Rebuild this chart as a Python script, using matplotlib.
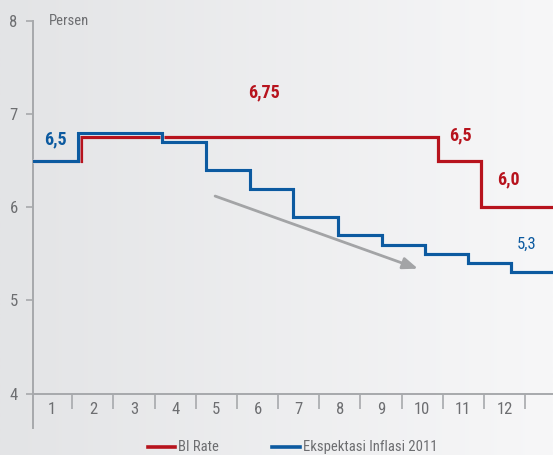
import matplotlib
matplotlib.use("Agg")
import matplotlib.pyplot as plt
import matplotlib.patheffects as pe
from matplotlib import font_manager as fm
import numpy as np

# pick a narrow sans family if one is installed
_fonts = fm.fontManager.ttflist
_names = {f.name for f in _fonts}
FONT_STRETCH = "normal"
if "Roboto Condensed" in _names:
    FONT = "Roboto Condensed"
elif "Liberation Sans Narrow" in _names:
    FONT = "Liberation Sans Narrow"
elif any(f.name == "DejaVu Sans" and "ondensed" in f.fname for f in _fonts):
    FONT = "DejaVu Sans"
    FONT_STRETCH = "condensed"
else:
    FONT = "Roboto"
plt.rcParams['font.family'] = [FONT, 'DejaVu Sans']
plt.rcParams['font.stretch'] = FONT_STRETCH

# Month categories on the x axis
months = ["1", "2", "3", "4", "5", "6", "7", "8", "9", "10", "11", "12"]

# BI Rate: change points (in month units) and levels (percent)
bi_x = [0.545, 1.71, 10.39, 11.44, 13.18]
bi_y = [6.5, 6.75, 6.5, 6.0, 6.0]

# Inflation expectation 2011: change points and levels (percent)
exp_x = [0.545, 1.64, 3.69, 4.74, 5.82, 6.87, 7.95, 9.02, 10.07, 11.11, 12.17, 13.18]
exp_y = [6.5, 6.8, 6.7, 6.4, 6.2, 5.9, 5.7, 5.6, 5.5, 5.4, 5.3, 5.3]

RED = "#b7131d"
BLUE = "#0c5aa0"
GRAY_TXT = "#6d6e71"
AXIS = "#a7a9ac"

W, H = 553, 455
fig = plt.figure(figsize=(W / 100, H / 100), dpi=100)

# soft horizontal background gradient
bg = fig.add_axes([0, 0, 1, 1], zorder=-10)
grad = np.linspace(0, 1, 256).reshape(1, -1)
c0 = np.array([0xe3, 0xe4, 0xe6]) / 255
c1 = np.array([0xf7, 0xf7, 0xf8]) / 255
img = c0[None, None, :] * (1 - grad[..., None]) + c1[None, None, :] * grad[..., None]
bg.imshow(img, aspect="auto", extent=[0, 1, 0, 1])
bg.set_axis_off()

left_px, right_px = 33, 553
top_px, bot_px = 21, 393.5
ax = fig.add_axes([left_px / W, 1 - bot_px / H, (right_px - left_px) / W, (bot_px - top_px) / H])
ax.patch.set_alpha(0)
ax.set_xlim(bi_x[0], bi_x[-1])
ax.set_ylim(4, 8)

ax.step(bi_x, bi_y, where="post", color=RED, lw=2.3, zorder=3, solid_joinstyle="miter")
ax.step(exp_x, exp_y, where="post", color=BLUE, lw=2.3, zorder=4, solid_joinstyle="miter",
        path_effects=[pe.Stroke(linewidth=3.3, foreground="#ffffff", alpha=0.6), pe.Normal()])

# downward trend arrow
ax.annotate("", xy=(9.90, 5.34), xytext=(4.97, 6.12),
            arrowprops=dict(arrowstyle="-|>,head_length=0.9,head_width=0.35",
                            color="#a3a4a6", lw=2.0, shrinkA=0, shrinkB=0), zorder=2)

# value labels
ax.text(1.08, 6.73, "6,5", color=BLUE, fontsize=13, fontweight="bold", ha="center", va="center")
ax.text(6.17, 7.23, "6,75", color=RED, fontsize=13, fontweight="bold", ha="center", va="center")
ax.text(10.92, 6.77, "6,5", color=RED, fontsize=13, fontweight="bold", ha="center", va="center")
ax.text(12.10, 6.30, "6,0", color=RED, fontsize=13, fontweight="bold", ha="center", va="center")
ax.text(12.55, 5.60, "5,3", color=BLUE, fontsize=12, ha="center", va="center")

# axes styling
for s in ["top", "right"]:
    ax.spines[s].set_visible(False)
ax.spines["left"].set_color(AXIS)
ax.spines["bottom"].set_color(AXIS)
ax.spines["left"].set_linewidth(1.4)
ax.spines["bottom"].set_linewidth(1.4)
ax.spines["left"].set_bounds(4 - 34 / 93.1, 8)

ax.set_yticks([4, 5, 6, 7, 8])
ax.set_yticklabels(["4", "5", "6", "7", "8"])
ax.tick_params(axis="y", length=5, width=1.2, color=AXIS, labelcolor=GRAY_TXT, labelsize=12, pad=6)

ax.set_xticks(np.arange(1.5, 12.6, 1.0))
ax.set_xticklabels([])
ax.tick_params(axis="x", length=11, width=1.2, color=AXIS, direction="out")
ax.set_xticks(np.arange(1, 13), minor=True)
ax.set_xticklabels(months, minor=True)
ax.tick_params(axis="x", which="minor", length=0, labelcolor=GRAY_TXT, labelsize=12, pad=6)

fig.text(49 / W, 1 - 21 / H, "Persen", color=GRAY_TXT, fontsize=10.5, ha="left", va="center")

# legend at the bottom
ly = 1 - 447 / H
fig.add_artist(plt.Line2D([148 / W, 175 / W], [ly, ly], color=RED, lw=2.6))
fig.text(178 / W, ly, "BI Rate", color=GRAY_TXT, fontsize=10.5, ha="left", va="center")
fig.add_artist(plt.Line2D([272 / W, 300 / W], [ly, ly], color=BLUE, lw=2.6))
fig.text(303 / W, ly, "Ekspektasi Inflasi 2011", color=GRAY_TXT, fontsize=10.5, ha="left", va="center")

fig.savefig("out.png", dpi=100)
